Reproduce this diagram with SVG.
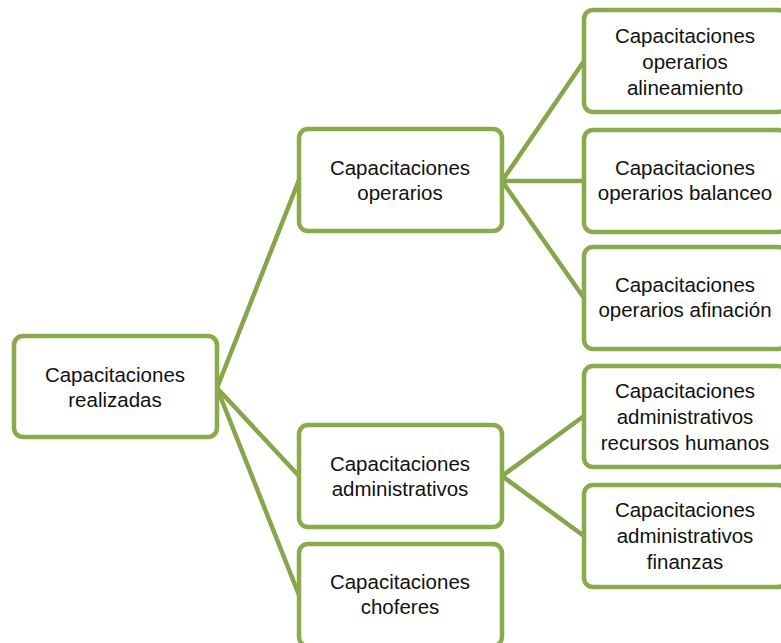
<svg xmlns="http://www.w3.org/2000/svg" width="781" height="643" viewBox="0 0 781 643">
<style>
.box{fill:#fff;stroke:#8aab4c;stroke-width:4.5}
.con line{stroke:#86a64a;stroke-width:4.5;stroke-linecap:round}
text{font-family:"Liberation Sans",Arial,sans-serif;font-size:20.5px;fill:#111;text-anchor:middle}
</style>
<rect width="781" height="643" fill="#fff"/>
<g id="connectors" class="con">
<line x1="217" y1="388" x2="299" y2="180"/>
<line x1="217" y1="388" x2="299" y2="476"/>
<line x1="217" y1="388" x2="299" y2="595"/>
<line x1="502" y1="181" x2="584" y2="61"/>
<line x1="502" y1="181" x2="584" y2="181"/>
<line x1="502" y1="181" x2="584" y2="298"/>
<line x1="502" y1="476" x2="584" y2="416"/>
<line x1="502" y1="476" x2="584" y2="536"/>
</g>
<g id="n_root"><rect class="box" x="14" y="336" width="203" height="101" rx="9"/>
<text x="115" y="382">Capacitaciones</text><text x="115" y="407">realizadas</text></g>
<g id="n_operarios"><rect class="box" x="299" y="129" width="203" height="102" rx="9"/>
<text x="400" y="175">Capacitaciones</text><text x="400" y="200">operarios</text></g>
<g id="n_admin"><rect class="box" x="299" y="425" width="203" height="102" rx="9"/>
<text x="400" y="471">Capacitaciones</text><text x="400" y="496">administrativos</text></g>
<g id="n_choferes"><rect class="box" x="299" y="544" width="203" height="102" rx="9"/>
<text x="400" y="589">Capacitaciones</text><text x="400" y="614">choferes</text></g>
<g id="n_alineamiento"><rect class="box" x="584" y="10" width="203" height="102" rx="9"/>
<text x="685" y="43">Capacitaciones</text><text x="685" y="69">operarios</text><text x="685" y="95">alineamiento</text></g>
<g id="n_balanceo"><rect class="box" x="584" y="130" width="203" height="102" rx="9"/>
<text x="685" y="175">Capacitaciones</text><text x="685" y="200">operarios balanceo</text></g>
<g id="n_afinacion"><rect class="box" x="584" y="247" width="203" height="102" rx="9"/>
<text x="685" y="292">Capacitaciones</text><text x="685" y="317">operarios afinación</text></g>
<g id="n_rrhh"><rect class="box" x="584" y="366" width="203" height="101" rx="9"/>
<text x="685" y="398">Capacitaciones</text><text x="685" y="424">administrativos</text><text x="685" y="450">recursos humanos</text></g>
<g id="n_finanzas"><rect class="box" x="584" y="485" width="203" height="102" rx="9"/>
<text x="685" y="517">Capacitaciones</text><text x="685" y="543">administrativos</text><text x="685" y="569">finanzas</text></g>
</svg>
